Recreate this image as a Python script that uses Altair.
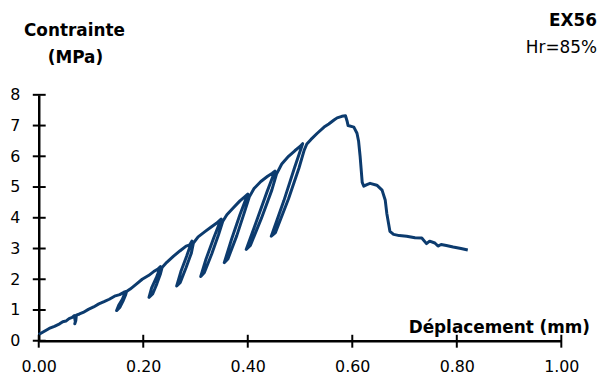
import altair as alt
import pandas as pd

# Displacement (mm) and stress (MPa), in drawing order
x_vals = [0.000, 0.010, 0.020, 0.030, 0.040, 0.046, 0.052, 0.058, 0.064, 0.068,
          0.070, 0.069, 0.071, 0.072, 0.078, 0.085, 0.095, 0.105, 0.115, 0.125,
          0.135, 0.145, 0.155, 0.163, 0.166, 0.160, 0.153, 0.149, 0.155, 0.161,
          0.166, 0.168, 0.175, 0.185, 0.198, 0.210, 0.220, 0.228, 0.233, 0.225,
          0.216, 0.211, 0.218, 0.226, 0.233, 0.236, 0.245, 0.258, 0.270, 0.282,
          0.289, 0.293, 0.283, 0.272, 0.264, 0.271, 0.282, 0.292, 0.296, 0.305,
          0.318, 0.330, 0.340, 0.349, 0.335, 0.320, 0.310, 0.317, 0.331, 0.344,
          0.352, 0.360, 0.372, 0.385, 0.394, 0.400, 0.385, 0.369, 0.355, 0.362,
          0.379, 0.394, 0.403, 0.412, 0.425, 0.438, 0.447, 0.452, 0.437, 0.417,
          0.397, 0.405, 0.426, 0.446, 0.455, 0.465, 0.478, 0.490, 0.500, 0.505,
          0.489, 0.469, 0.445, 0.453, 0.478, 0.498, 0.508, 0.513, 0.521, 0.533,
          0.546, 0.555, 0.565, 0.571, 0.580, 0.587, 0.590, 0.592, 0.603, 0.609,
          0.612, 0.615, 0.619, 0.622, 0.628, 0.634, 0.647, 0.657, 0.663, 0.666,
          0.672, 0.679, 0.690, 0.704, 0.720, 0.733, 0.742, 0.748, 0.758, 0.764,
          0.770, 0.780, 0.793, 0.808, 0.821]
y_vals = [0.20, 0.30, 0.40, 0.47, 0.55, 0.62, 0.64, 0.72, 0.76, 0.82,
          0.62, 0.55, 0.66, 0.83, 0.87, 0.92, 1.02, 1.10, 1.20, 1.27,
          1.35, 1.45, 1.50, 1.58, 1.60, 1.35, 1.15, 0.98, 1.08, 1.28,
          1.48, 1.60, 1.68, 1.82, 2.00, 2.12, 2.25, 2.33, 2.41, 2.05,
          1.72, 1.41, 1.52, 1.85, 2.18, 2.38, 2.55, 2.75, 2.92, 3.08,
          3.12, 3.24, 2.75, 2.25, 1.78, 1.90, 2.38, 2.85, 3.18, 3.38,
          3.55, 3.70, 3.82, 3.96, 3.35, 2.65, 2.09, 2.22, 2.82, 3.45,
          3.88, 4.10, 4.32, 4.55, 4.68, 4.77, 4.10, 3.30, 2.54, 2.66,
          3.42, 4.20, 4.68, 4.95, 5.18, 5.35, 5.45, 5.52, 4.85, 3.90,
          2.97, 3.10, 3.98, 4.90, 5.42, 5.75, 6.00, 6.18, 6.32, 6.41,
          5.60, 4.55, 3.40, 3.52, 4.62, 5.62, 6.20, 6.40, 6.55, 6.75,
          6.95, 7.05, 7.18, 7.25, 7.30, 7.32, 7.15, 7.00, 6.95, 6.75,
          6.50, 6.00, 5.15, 5.03, 5.08, 5.12, 5.06, 4.90, 4.58, 4.15,
          3.56, 3.46, 3.42, 3.40, 3.35, 3.34, 3.16, 3.24, 3.18, 3.08,
          3.13, 3.10, 3.05, 3.00, 2.95]

x_ticks = [0.0, 0.2, 0.4, 0.6, 0.8, 1.0]
y_ticks = [0, 1, 2, 3, 4, 5, 6, 7, 8]

FONT = "DejaVu Sans"
COLOR = "#0C3B6E"

df = pd.DataFrame({"x": x_vals, "y": y_vals, "i": list(range(len(x_vals)))})
xs = alt.Scale(domain=[0, 1], nice=False, zero=False)
ys = alt.Scale(domain=[0, 8], nice=False, zero=False)

x_axis = alt.Axis(values=x_ticks, format=".2f", title=None, ticks=False, grid=False,
                  domainColor="black", domainWidth=2.5, labelFont=FONT,
                  labelFontSize=16, labelColor="black", labelPadding=18,
                  labelFlush=False, labelOverlap=False)
y_axis = alt.Axis(values=y_ticks, format="d", title=None, ticks=False, grid=False,
                  domainColor="black", domainWidth=2.5, labelFont=FONT,
                  labelFontSize=16, labelColor="black", labelPadding=19,
                  labelFlush=False, labelOverlap=False)

line = alt.Chart(df).mark_line(color=COLOR, strokeWidth=3, strokeJoin="round").encode(
    x=alt.X("x:Q", scale=xs, axis=x_axis),
    y=alt.Y("y:Q", scale=ys, axis=y_axis),
    order="i:O",
)

ytick_df = pd.DataFrame({"t": y_ticks})
xtick_df = pd.DataFrame({"t": x_ticks})
yt = alt.Chart(ytick_df).mark_rule(color="black", strokeWidth=2).encode(
    y=alt.Y("t:Q", scale=ys, axis=y_axis), x=alt.value(-6), x2=alt.value(7))
xt = alt.Chart(xtick_df).mark_rule(color="black", strokeWidth=2).encode(
    x=alt.X("t:Q", scale=xs, axis=x_axis), y=alt.value(242), y2=alt.value(255))


def label(txt, x, y, align="center", bold=True, size=17):
    return alt.Chart(pd.DataFrame({"s": [txt]})).mark_text(
        font=FONT, fontSize=size, fontWeight="bold" if bold else "normal",
        align=align, baseline="middle", color="black").encode(
        x=alt.value(x), y=alt.value(y), text="s:N")


texts = [
    label("Contrainte", 36, -64),
    label("(MPa)", 37, -37),
    label("EX56", 563, -74, align="right"),
    label("Hr=85%", 563, -47, align="right", bold=False),
    label("Déplacement (mm)", 556, 235, align="right"),
]

chart = alt.layer(line, yt, xt, *texts).properties(
    width=527, height=248,
    autosize=alt.AutoSizeParams(type="none"),
    padding={"left": 31, "top": 86, "right": 37, "bottom": 33},
).configure_view(stroke=None)

chart.save("out.html", embed_options={"renderer": "svg", "actions": False})
